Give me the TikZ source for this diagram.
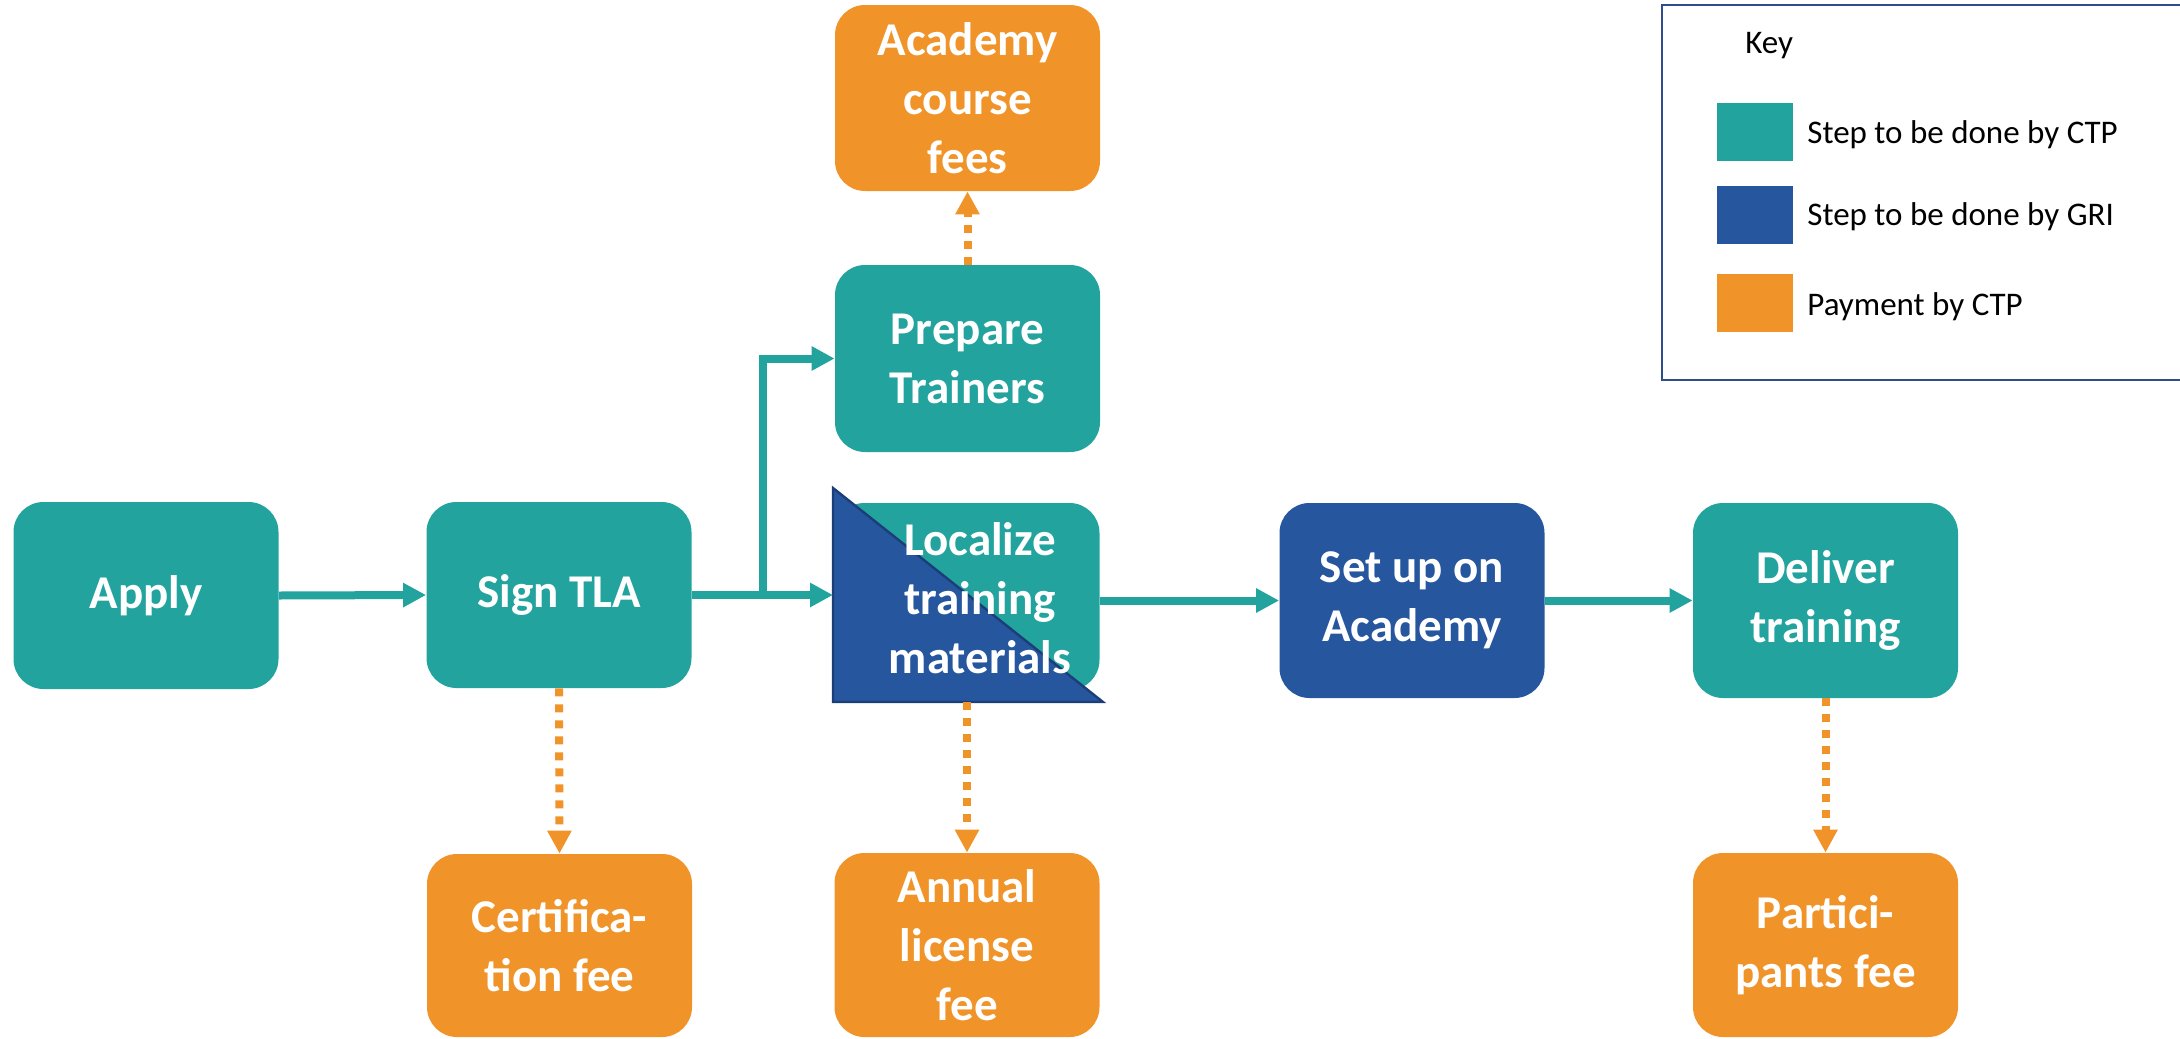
\documentclass[tikz,border=0pt]{standalone}
\usepackage{fontspec}
\setmainfont{Carlito}
\usetikzlibrary{arrows.meta}
\definecolor{tealc}{RGB}{34,163,158}
\definecolor{gblue}{RGB}{37,86,158}
\definecolor{orng}{RGB}{240,148,42}
\definecolor{tribd}{RGB}{28,62,120}
\definecolor{keybd}{RGB}{47,77,140}
\begin{document}
\begin{tikzpicture}[x=0.5pt,y=-0.5pt,
  bigtext/.style={text=white, align=center, font=\fontsize{23.5}{29.5}\selectfont\bfseries},
  box/.style={bigtext, rounded corners=15pt, inner sep=0pt, minimum width=132.5pt},
  flow/.style={draw=tealc, line width=4pt, -{Triangle[length=11.5pt,width=11.5pt]}},
  pay/.style={draw=orng, line width=4pt, dash pattern=on 4pt off 4pt, -{Triangle[length=11.5pt,width=11.5pt]}},
  swatch/.style={inner sep=0pt, minimum width=38pt, minimum height=29pt},
  keytext/.style={anchor=base west, inner sep=0pt, font=\fontsize{16.5}{20}\selectfont}]
\useasboundingbox (0,0) rectangle (2180,1039);
% key
\node[draw=keybd, line width=1.3pt, minimum width=269pt, minimum height=187.5pt, inner sep=0pt] (keybox) at (1931,192.5) {};
\node[keytext] (keytitle) at (1745,53) {Key};
\node[swatch, fill=tealc] (k1) at (1755,131.5) {};
\node[swatch, fill=gblue] (k2) at (1755,214.5) {};
\node[swatch, fill=orng] (k3) at (1755,302.5) {};
\node[keytext] (l1) at (1807,143) {Step to be done by CTP};
\node[keytext] (l2) at (1807,225) {Step to be done by GRI};
\node[keytext] (l3) at (1807,315) {Payment by CTP};
% nodes
\node[box, fill=tealc, minimum height=93.5pt] (apply) at (146,595.5) {Apply};
\node[box, fill=tealc, minimum height=93pt] (sign) at (559,595) {Sign TLA};
\node[box, fill=tealc, minimum height=93.5pt] (prep) at (967.5,358.5) {Prepare\\Trainers};
\node[box, fill=orng, minimum height=93pt] (acad) at (967.5,98) {Academy\\course\\fees};
\node[box, fill=tealc, minimum height=93.5pt] (loc) at (967,596.5) {};
\coordinate (tA) at (833,488);
\coordinate (tB) at (833,702);
\coordinate (tC) at (1103,702);
\filldraw[fill=gblue, draw=tribd, line width=1.2pt, line join=miter] (tA) -- (tB) -- (tC) -- cycle;
\node[bigtext, inner sep=0pt] (loctext) at (980,598) {Localize\\training\\materials};
\node[box, fill=gblue, minimum height=97.5pt] (setup) at (1412,600.5) {Set up on\\Academy};
\node[box, fill=tealc, minimum height=97.5pt] (deliver) at (1825.5,600.5) {Deliver\\training};
\node[box, fill=orng, minimum height=91.5pt] (cert) at (559.5,945.5) {Certifica-\\tion fee};
\node[box, fill=orng, minimum height=92pt] (annual) at (967,945) {Annual\\license\\fee};
\node[box, fill=orng, minimum height=92pt] (part) at (1825.5,945) {Partici-\\pants fee};
% connectors
\draw[flow] (apply.east) -- (sign.west);
\draw[flow] (sign.east) -- (sign.east -| tA);
\coordinate (br) at (763,595);
\draw[flow] (br) |- (prep.west);
\draw[flow] (setup.west -| loc.east) -- (setup.west);
\draw[flow] (setup.east) -- (deliver.west);
\draw[pay] (sign.south) -- (cert.north);
\draw[pay] (prep.north) -- (acad.south);
\draw[pay] (annual.north |- tB) -- (annual.north);
\draw[pay] (deliver.south) -- (part.north);
\end{tikzpicture}
\end{document}
